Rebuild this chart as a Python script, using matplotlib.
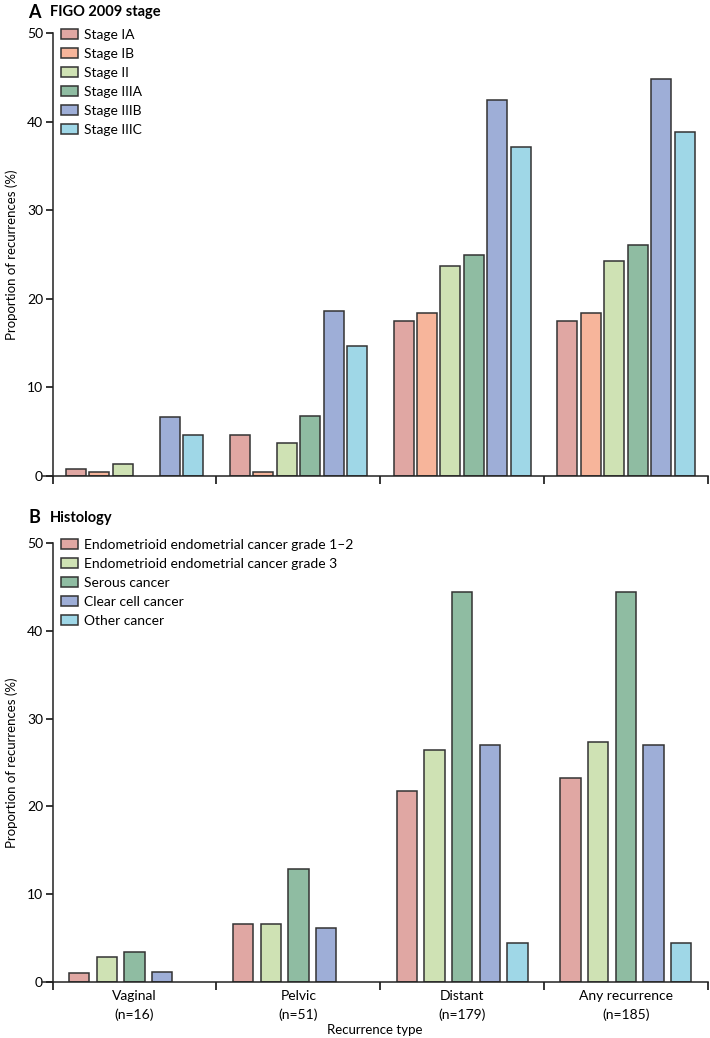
import numpy as np
import matplotlib
matplotlib.use("Agg")
import matplotlib.pyplot as plt
from matplotlib.patches import Patch

# ==============================
# DATA
# ==============================
groups = ["Vaginal\n(n=16)", "Pelvic\n(n=51)", "Distant\n(n=179)", "Any recurrence\n(n=185)"]

stage_labels = ["Stage IA", "Stage IB", "Stage II", "Stage IIIA", "Stage IIIB", "Stage IIIC"]
stage_ia = [0.8, 4.6, 17.5, 17.5]
stage_ib = [0.5, 0.5, 18.4, 18.4]
stage_ii = [1.4, 3.7, 23.7, 24.3]
stage_iiia = [0.0, 6.8, 24.9, 26.1]
stage_iiib = [6.7, 18.6, 42.4, 44.8]
stage_iiic = [4.6, 14.7, 37.1, 38.8]

hist_labels = ["Endometrioid endometrial cancer grade 1\u20132",
               "Endometrioid endometrial cancer grade 3",
               "Serous cancer", "Clear cell cancer", "Other cancer"]
eec_12 = [1.0, 6.6, 21.7, 23.2]
eec_3 = [2.9, 6.6, 26.4, 27.3]
serous = [3.4, 12.9, 44.4, 44.4]
clear_cell = [1.2, 6.1, 27.0, 27.0]
other = [0.0, 0.0, 4.4, 4.4]

# ==============================
# STYLE
# ==============================
plt.rcParams["font.family"] = ["Lato", "DejaVu Sans"]
FS = 10
EDGE = "#333333"
c_ia = "#e0a7a3"
c_ib = "#f7b59b"
c_ii = "#cfe2b4"
c_iiia = "#8fbca2"
c_iiib = "#9eaed7"
c_iiic = "#9fd7e7"

fig = plt.figure(figsize=(7.1, 10.38), dpi=100)
ax_a = fig.add_axes([0.0592, 0.5414, 0.9378, 0.4268])
ax_b = fig.add_axes([0.0592, 0.0539, 0.9378, 0.4230])


def draw_panel(ax, series, colors, labels, pitch, width):
    n = len(series)
    x = np.arange(len(groups))
    for i, (vals, col) in enumerate(zip(series, colors)):
        vals = np.array(vals)
        centers = x + 0.5 + (i - (n - 1) / 2) * pitch
        keep = vals > 0  # no bar drawn for zero
        ax.bar(centers[keep], vals[keep], width=width, color=col,
               edgecolor=EDGE, linewidth=1.1)
    ax.set_xlim(-0.065, 4.0)
    ax.set_ylim(0, 50)
    ax.spines["top"].set_visible(False)
    ax.spines["right"].set_visible(False)
    ax.spines["left"].set_position(("data", 0))
    ax.spines["left"].set_bounds(0, 50)
    for s in ["left", "bottom"]:
        ax.spines[s].set_linewidth(1.1)
        ax.spines[s].set_color("#222222")
    ax.set_yticks([0, 10, 20, 30, 40, 50])
    ax.tick_params(axis="y", length=5, width=1.1, labelsize=FS, pad=2)
    ax.set_xticks([0, 1, 2, 3, 4])
    ax.set_xticklabels([])
    ax.tick_params(axis="x", which="major", length=6, width=1.1, direction="out")
    ax.set_ylabel("Proportion of recurrences (%)", fontsize=FS - 0.5, labelpad=6)
    handles = [Patch(facecolor=c, edgecolor=EDGE, linewidth=1.1) for c in colors]
    ax.legend(handles, labels, loc="upper left", bbox_to_anchor=(0.028, 1.009),
              frameon=False, fontsize=FS, handlelength=1.25, handleheight=0.72,
              labelspacing=0.5, handletextpad=0.4, borderaxespad=0,
              borderpad=0)


draw_panel(ax_a, [stage_ia, stage_ib, stage_ii, stage_iiia, stage_iiib, stage_iiic],
           [c_ia, c_ib, c_ii, c_iiia, c_iiib, c_iiic], stage_labels, 0.143, 0.122)
draw_panel(ax_b, [eec_12, eec_3, serous, clear_cell, other],
           [c_ia, c_ii, c_iiia, c_iiib, c_iiic], hist_labels, 0.169, 0.124)

# group labels on panel B
ax_b.set_xticks([0.5, 1.5, 2.5, 3.5], minor=True)
ax_b.set_xticklabels(groups, minor=True, fontsize=FS, linespacing=1.55)
ax_b.tick_params(axis="x", which="minor", length=0, pad=6)
ax_b.set_xlabel("Recurrence type", fontsize=FS - 0.5, labelpad=2)

fig.text(0.04, 0.988, "A", fontsize=13, fontweight="bold", va="center")
fig.text(0.07, 0.988, "FIGO 2009 stage", fontsize=10.5, fontweight="bold", va="center")
fig.text(0.04, 0.501, "B", fontsize=13, fontweight="bold", va="center")
fig.text(0.07, 0.501, "Histology", fontsize=10.5, fontweight="bold", va="center")

fig.savefig("out.png", dpi=100)
